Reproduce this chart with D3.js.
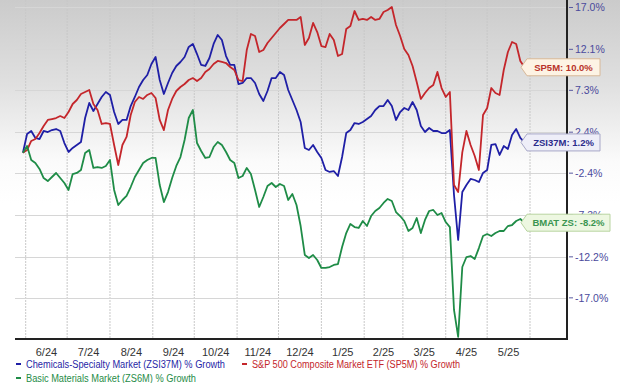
<!DOCTYPE html>
<html><head><meta charset="utf-8">
<script src="https://cdn.jsdelivr.net/npm/d3@7"></script>
<style>body{margin:0;background:#fff}svg{display:block;font-family:"Liberation Sans",Arial,sans-serif}</style>
</head><body><svg id="c" width="620" height="383"></svg>
<script>
// ---- data (percent growth, sampled every 3 days from 2024-05-30) ----
const chemValues = [0,2.19,2.54,1.72,1.60,2.54,2.42,2.65,2.77,2.54,
1.13,0.08,0.55,0.90,1.25,4.06,5.82,4.88,5.70,6.52,
7.11,6.76,4.76,3.36,3.83,3.83,5.46,6.52,7.69,8.51,
9.10,10.38,11.20,8.51,6.87,8.16,9.33,10.15,10.62,11.20,
12.38,12.73,11.55,10.27,10.15,11.09,12.73,13.78,13.19,11.32,
10.27,10.27,8.04,8.16,8.74,8.74,8.16,6.87,6.05,7.22,
8.74,8.74,9.45,9.10,7.34,6.17,5.00,3.59,0.55,0.31,
0.90,0.08,-0.62,-2.03,-2.26,-2.15,-2.73,-0.51,2.30,2.65,
3.47,3.36,3.59,3.94,4.29,5.00,5.46,5.46,6.17,5.46,
3.83,4.76,5.23,5.00,5.93,5.00,3.12,2.42,2.89,2.54,
2.54,2.30,2.30,2.65,-4.96,-10.23,-4.60,-3.79,-3.08,-3.20,
-3.44,-2.38,-2.03,0.90,1.01,-0.27,0.78,0.43,2.07,2.77,
1.72,1.2];
const spValues = [0,0.31,1.37,1.60,2.30,3.12,3.83,3.94,4.06,4.29,
4.06,4.76,5.70,6.17,6.87,7.11,7.34,5.70,5.00,3.36,
3.47,3.36,0.90,-1.44,0.90,1.84,4.41,5.93,6.52,6.29,
6.76,6.99,6.40,3.83,2.65,5.00,6.29,7.22,7.69,8.04,
8.51,8.74,8.39,8.74,9.45,9.80,10.38,10.74,10.62,10.50,
10.03,9.68,8.51,8.39,12.02,13.90,13.66,11.79,12.02,12.84,
13.43,14.01,14.60,15.07,15.54,15.54,15.54,15.89,12.61,13.43,
15.19,14.13,12.49,12.37,13.90,13.19,11.32,11.55,14.48,14.83,
16.59,15.54,15.66,15.54,15.89,15.54,15.66,16.47,16.71,17.06,
14.95,13.66,12.14,11.44,10.15,8.28,6.29,6.99,7.57,7.93,
9.45,7.57,6.52,7.11,-3.79,-4.60,0.03,2.54,0.90,-0.39,
-2.03,4.41,5.23,7.57,6.99,6.76,9.68,11.79,12.96,12.73,
10.74,10.0];
const basicValues = [0,0.78,-0.86,-1.21,-1.91,-2.97,-3.32,-2.85,-2.38,-2.97,
-3.55,-4.37,-2.50,-2.38,-2.03,-0.04,0.31,-1.79,-1.68,-1.79,
-1.56,-0.86,-4.37,-6.13,-5.54,-5.07,-4.02,-2.85,-2.03,-1.21,
-0.86,-0.62,-0.62,-3.79,-5.78,-4.61,-2.97,-1.56,-0.51,1.48,
4.06,5.0,1.13,0.20,-0.62,-0.51,0.66,1.25,0.90,0.08,
-0.86,-1.21,-2.97,-2.73,-1.79,-2.50,-4.37,-6.36,-5.19,-3.90,
-3.55,-4.02,-3.67,-3.90,-5.54,-4.84,-6.13,-8.59,-11.98,-12.33,
-11.98,-12.57,-13.50,-13.50,-13.39,-13.15,-13.04,-11.05,-9.41,-8.35,
-8.71,-8.82,-8.00,-8.59,-7.42,-6.83,-6.48,-5.89,-5.42,-5.66,
-6.95,-7.42,-8.00,-9.17,-8.82,-7.65,-9.41,-7.88,-6.83,-6.71,
-7.30,-7.07,-8.12,-8.71,-18.42,-21.58,-13.39,-12.22,-12.10,-12.45,
-11.17,-9.76,-9.53,-9.76,-9.41,-9.17,-9.17,-8.59,-8.47,-8.00,
-7.77,-8.2];
const yTicks = [17.0, 12.1, 7.3, 2.4, -2.4, -7.3, -12.2, -17.0];
const monthLabels = ["6/24","7/24","8/24","9/24","10/24","11/24","12/24","1/25","2/25","3/25","4/25","5/25"];
const seriesNames = ["Chemicals-Specialty Market (ZSI37M) % Growth","S&P 500 Composite Market ETF (SP5M) % Growth","Basic Materials Market (ZS6M) % Growth"];
const endTags = ["ZSI37M","SP5M","BMAT ZS"];
const colors = ["#1f1fa6","#c4262b","#1f8c47"];
const tagText = ["#2b2b8c","#b8322a","#3a9550"];
const tagFill = ["#eeeef8","#fdf3e4","#edf7e1"];
const tagStroke = ["#a8a8c8","#d8b898","#b8d4a0"];

const dataStart = new Date(2024, 4, 30);
const dates = chemValues.map((_, i) => d3.timeDay.offset(dataStart, 3 * i));
const series = [chemValues, spValues, basicValues];

const svg = d3.select("#c");
const x = d3.scaleTime().domain([new Date(2024,5,1), new Date(2025,5,1)]).range([25.7, 530]);
const y = d3.scaleLinear().domain([17.878, -21.936]).range([0, 340]);
const plotL = 15, plotR = 567, plotB = 339;

// background gradient
const defs = svg.append("defs");
const g = defs.append("linearGradient").attr("id","bg").attr("x1",0).attr("y1",0).attr("x2",0).attr("y2",1);
g.append("stop").attr("offset","0%").attr("stop-color","#cbcbcb");
g.append("stop").attr("offset","25%").attr("stop-color","#e0e0e0");
g.append("stop").attr("offset","48%").attr("stop-color","#fbfbfb");
g.append("stop").attr("offset","60%").attr("stop-color","#ffffff");
g.append("stop").attr("offset","100%").attr("stop-color","#ffffff");
svg.append("rect").attr("x",0).attr("y",0).attr("width",620).attr("height",plotB).attr("fill","url(#bg)");

// grid
const months = d3.timeMonth.range(new Date(2024,5,1), new Date(2025,5,2));
svg.append("g").selectAll("line").data(months).join("line")
  .attr("x1", d => x(d)).attr("x2", d => x(d)).attr("y1", 0).attr("y2", plotB)
  .attr("stroke","#c8c8c8").attr("stroke-width",1).attr("stroke-dasharray","2,1");
svg.append("g").selectAll("line").data(yTicks).join("line")
  .attr("x1", plotL).attr("x2", plotR).attr("y1", d => Math.round(y(d))+0.5).attr("y2", d => Math.round(y(d))+0.5)
  .attr("stroke","#d6d6d6").attr("stroke-width",1);

// lines
const line = d3.line().x((d,i) => x(dates[i])).y(d => y(d));
series.forEach((s, si) => {
  svg.append("path").datum(s).attr("d", line).attr("fill","none")
    .attr("stroke", colors[si]).attr("stroke-width", 1.8).attr("stroke-linejoin","round");
});

// axes lines
svg.append("line").attr("x1",plotL).attr("x2",plotR+1).attr("y1",plotB).attr("y2",plotB).attr("stroke","#222").attr("stroke-width",2);
svg.append("line").attr("x1",plotR).attr("x2",plotR).attr("y1",0).attr("y2",plotB).attr("stroke","#222").attr("stroke-width",2);

// right axis ticks and labels
const yt = svg.append("g");
yt.selectAll("line").data(yTicks).join("line")
  .attr("x1", plotR+2).attr("x2", plotR+6).attr("y1", d => y(d)).attr("y2", d => y(d))
  .attr("stroke","#5a5aa0").attr("stroke-width",1);
yt.selectAll("text").data(yTicks).join("text")
  .attr("x", plotR+8).attr("y", d => y(d)).attr("dy","0.35em")
  .attr("font-size",10.5).attr("fill","#4a4a9c")
  .text(d => d.toFixed(1) + "%");

// month labels (centered within each month)
svg.append("g").selectAll("text").data(monthLabels).join("text")
  .attr("x", (d,i) => (x(months[i]) + x(months[i+1])) / 2)
  .attr("y", 352).attr("dy","0.35em").attr("text-anchor","middle")
  .attr("font-size",11).attr("fill","#333").text(d => d);

// end tags
series.forEach((s, si) => {
  const v = s[s.length-1];
  const cy = y(v);
  const lbl = endTags[si] + ": " + v.toFixed(1) + "%";
  const x0 = 521, w = [73, 73, 83][si], h = 17;
  const gg = svg.append("g");
  gg.append("path")
    .attr("d", `M${x0},${cy} L${x0+6},${cy-h/2} L${x0+6+w},${cy-h/2} L${x0+6+w},${cy+h/2} L${x0+6},${cy+h/2} Z`)
    .attr("fill", tagFill[si]).attr("stroke", tagStroke[si]).attr("stroke-width",1);
  gg.append("text").attr("x", x0+6+w/2).attr("y", cy).attr("dy","0.35em").attr("text-anchor","middle")
    .attr("font-size",9.5).attr("font-weight","bold").attr("fill", tagText[si]).text(lbl);
});

// legend
const legendPos = [[16,364,225],[242,364,460],[16,378,196]];
seriesNames.forEach((n, i) => {
  const [lx, ly, lend] = legendPos[i];
  svg.append("line").attr("x1",lx).attr("x2",lx+5).attr("y1",ly).attr("y2",ly).attr("stroke",colors[i]).attr("stroke-width",2);
  svg.append("text").attr("x", lx+10).attr("y", ly).attr("dy","0.35em")
    .attr("font-size",10).attr("fill", colors[i])
    .attr("textLength", lend - lx - 10).attr("lengthAdjust","spacingAndGlyphs").text(n);
});
</script></body></html>
